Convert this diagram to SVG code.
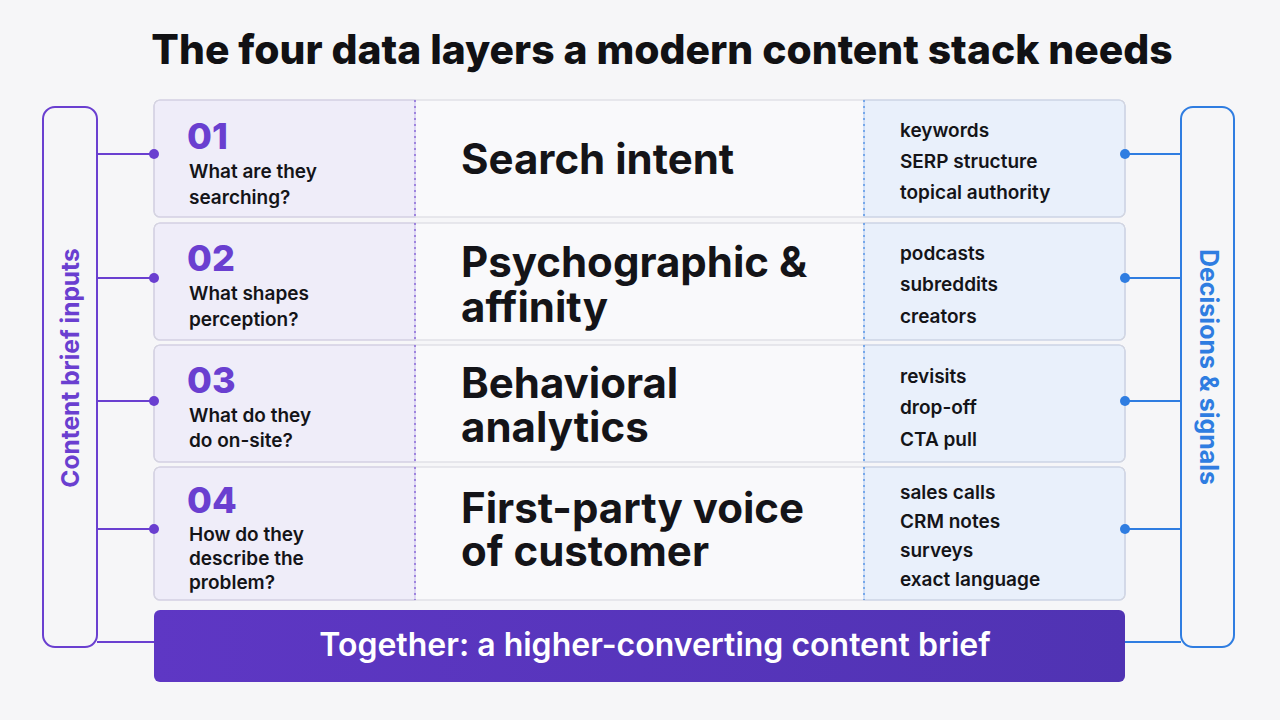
<svg xmlns="http://www.w3.org/2000/svg" width="1280" height="720" viewBox="0 0 1280 720">
<defs>
<style>
.t{font-family:Inter,"Noto Sans","Liberation Sans",sans-serif;}
.num{font-size:36px;font-weight:800;fill:#6a3fd0;}
.q{font-size:19px;font-weight:600;fill:#141418;}
.mid{font-size:42px;font-weight:700;fill:#141418;}
.lst{font-size:19px;font-weight:600;fill:#141418;}
.lcell{fill:#efedf9;stroke:#cdc4ee;stroke-width:1.2;}
.mcell{fill:#f9f9fb;}
.rcell{fill:#e9f0fb;stroke:#b9d0f3;stroke-width:1.2;}
.pl{stroke:#6a3fd0;stroke-width:2;fill:none;}
.bl{stroke:#2f7de1;stroke-width:2;fill:none;}
.pdash{stroke:#8a6ad8;stroke-width:1.5;stroke-dasharray:2 4;}
.bdash{stroke:#5a97e6;stroke-width:1.5;stroke-dasharray:2 4;}
.rowb{fill:none;stroke:#d6d6de;stroke-width:1.2;}
</style>
<linearGradient id="bar" x1="0" y1="0" x2="1" y2="0">
<stop offset="0" stop-color="#5e37c4"/>
<stop offset="1" stop-color="#5033b3"/>
</linearGradient>
</defs>
<rect width="1280" height="720" fill="#f6f6f8"/>
<text class="t" x="662" y="64" text-anchor="middle" font-size="40.8" font-weight="800" fill="#111114">The four data layers a modern content stack needs</text>

<g id="left-bracket">
<rect x="43" y="107" width="54" height="540" rx="12" class="pl"/>
<text class="t" transform="translate(79,368) rotate(-90)" text-anchor="middle" font-size="24.5" font-weight="700" fill="#6a3fd0">Content brief inputs</text>
</g>
<g id="right-bracket">
<rect x="1181" y="107" width="53" height="540" rx="12" class="bl"/>
<text class="t" transform="translate(1200,367) rotate(90)" text-anchor="middle" font-size="25" font-weight="700" fill="#2f7de1">Decisions &amp; signals</text>
</g>

<g id="row1">
<rect x="154" y="100" width="971" height="117" rx="6" class="mcell"/>
<path d="M160 100 H415 V217 H160 a6 6 0 0 1 -6 -6 V106 a6 6 0 0 1 6 -6z" class="lcell"/>
<path d="M864 100 H1119 a6 6 0 0 1 6 6 V211 a6 6 0 0 1 -6 6 H864z" class="rcell"/>
<rect x="154" y="100" width="971" height="117" rx="6" class="rowb"/>
<line x1="415" y1="100" x2="415" y2="217" class="pdash"/>
<line x1="864" y1="100" x2="864" y2="217" class="bdash"/>
<text class="t num" x="187" y="149">01</text>
<text class="t q" x="189" y="178">What are they</text>
<text class="t q" x="189" y="204">searching?</text>
<text class="t mid" x="461" y="174">Search intent</text>
<text class="t lst" x="900" y="137">keywords</text>
<text class="t lst" x="900" y="168">SERP structure</text>
<text class="t lst" x="900" y="199">topical authority</text>
</g>

<g id="row2">
<rect x="154" y="223" width="971" height="117" rx="6" class="mcell"/>
<path d="M160 223 H415 V340 H160 a6 6 0 0 1 -6 -6 V229 a6 6 0 0 1 6 -6z" class="lcell"/>
<path d="M864 223 H1119 a6 6 0 0 1 6 6 V334 a6 6 0 0 1 -6 6 H864z" class="rcell"/>
<rect x="154" y="223" width="971" height="117" rx="6" class="rowb"/>
<line x1="415" y1="223" x2="415" y2="340" class="pdash"/>
<line x1="864" y1="223" x2="864" y2="340" class="bdash"/>
<text class="t num" x="187" y="271">02</text>
<text class="t q" x="189" y="300">What shapes</text>
<text class="t q" x="189" y="326">perception?</text>
<text class="t mid" x="461" y="277">Psychographic &amp;</text>
<text class="t mid" x="461" y="322">affinity</text>
<text class="t lst" x="900" y="260">podcasts</text>
<text class="t lst" x="900" y="291">subreddits</text>
<text class="t lst" x="900" y="323">creators</text>
</g>

<g id="row3">
<rect x="154" y="345" width="971" height="117" rx="6" class="mcell"/>
<path d="M160 345 H415 V462 H160 a6 6 0 0 1 -6 -6 V351 a6 6 0 0 1 6 -6z" class="lcell"/>
<path d="M864 345 H1119 a6 6 0 0 1 6 6 V456 a6 6 0 0 1 -6 6 H864z" class="rcell"/>
<rect x="154" y="345" width="971" height="117" rx="6" class="rowb"/>
<line x1="415" y1="345" x2="415" y2="462" class="pdash"/>
<line x1="864" y1="345" x2="864" y2="462" class="bdash"/>
<text class="t num" x="187" y="393">03</text>
<text class="t q" x="189" y="422">What do they</text>
<text class="t q" x="189" y="447">do on-site?</text>
<text class="t mid" x="461" y="398">Behavioral</text>
<text class="t mid" x="461" y="442">analytics</text>
<text class="t lst" x="900" y="383">revisits</text>
<text class="t lst" x="900" y="414">drop-off</text>
<text class="t lst" x="900" y="446">CTA pull</text>
</g>

<g id="row4">
<rect x="154" y="467" width="971" height="133" rx="6" class="mcell"/>
<path d="M160 467 H415 V600 H160 a6 6 0 0 1 -6 -6 V473 a6 6 0 0 1 6 -6z" class="lcell"/>
<path d="M864 467 H1119 a6 6 0 0 1 6 6 V594 a6 6 0 0 1 -6 6 H864z" class="rcell"/>
<rect x="154" y="467" width="971" height="133" rx="6" class="rowb"/>
<line x1="415" y1="467" x2="415" y2="600" class="pdash"/>
<line x1="864" y1="467" x2="864" y2="600" class="bdash"/>
<text class="t num" x="187" y="513">04</text>
<text class="t q" x="189" y="541">How do they</text>
<text class="t q" x="189" y="565">describe the</text>
<text class="t q" x="189" y="589">problem?</text>
<text class="t mid" x="461" y="523">First-party voice</text>
<text class="t mid" x="461" y="566">of customer</text>
<text class="t lst" x="900" y="499">sales calls</text>
<text class="t lst" x="900" y="528">CRM notes</text>
<text class="t lst" x="900" y="557">surveys</text>
<text class="t lst" x="900" y="586">exact language</text>
</g>

<g id="summary">
<rect x="154" y="610" width="971" height="72" rx="6" fill="url(#bar)"/>
<text class="t" x="655" y="656" text-anchor="middle" font-size="32" font-weight="600" fill="#ffffff">Together: a higher-converting content brief</text>
</g>

<g id="connectors">
<path d="M97 154 H154 M97 278 H154 M97 401 H154 M97 529 H154 M97 642 H154" class="pl"/>
<g fill="#6a3fd0">
<circle cx="154" cy="154" r="5"/><circle cx="154" cy="278" r="5"/><circle cx="154" cy="401" r="5"/><circle cx="154" cy="529" r="5"/>
</g>
<path d="M1125 154 H1181 M1125 278 H1181 M1125 401 H1181 M1125 529 H1181 M1125 642 H1181" class="bl"/>
<g fill="#2f7de1">
<circle cx="1125" cy="154" r="5"/><circle cx="1125" cy="278" r="5"/><circle cx="1125" cy="401" r="5"/><circle cx="1125" cy="529" r="5"/>
</g>
</g>
</svg>
